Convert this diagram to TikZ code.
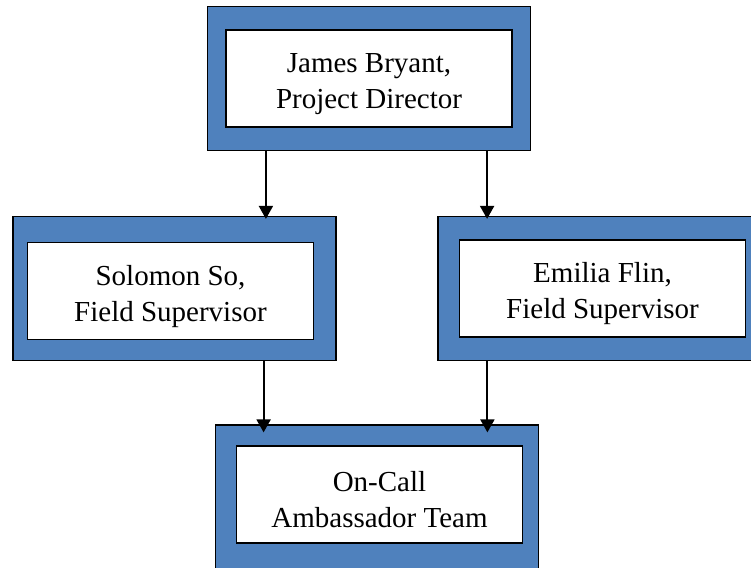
\documentclass[tikz,border=0pt]{standalone}
\usepackage{fontspec}
\setmainfont{Liberation Serif}
\usetikzlibrary{arrows.meta}
\definecolor{frameblue}{RGB}{79,129,189}
\newcommand\padtop{\rule{0pt}{31pt}}

\begin{document}
\begin{tikzpicture}[x=1pt,y=-1pt,
    frame/.style={draw=black,line width=1.2pt,fill=frameblue,
      minimum width=323pt,minimum height=144pt,inner sep=0pt},
    card/.style={draw=black,line width=1.6pt,fill=white,
      minimum width=286pt,minimum height=97pt,inner sep=0pt,
      align=center,font=\fontsize{29}{36}\selectfont},
    link/.style={line width=2pt,-{Triangle[width=14pt,length=13pt]}}]
  \useasboundingbox (0,0) rectangle (751,567);
  % frames
  \node[frame] (dirF) at (369,78.5) {};
  \node[frame] (solF) at (174.5,288.5) {};
  \node[frame,minimum width=330pt] (emiF) at (603,288.5) {};
  \node[frame] (teamF) at (377,497) {};
  % cards
  \node[card] (dir) at (dirF) {\padtop James Bryant,\\Project Director};
  \node[card] (sol) at (170.5,291) {\padtop Solomon So,\\Field Supervisor};
  \node[card] (emi) at (602.5,288.5) {\padtop Emilia Flin,\\Field Supervisor};
  \node[card] (team) at (379.5,494.5) {\padtop On-Call\\Ambassador Team};
  % arrows
  \draw[link] ([xshift=59pt]dirF.south west) -- ([xshift=59pt,yshift=-3pt]dirF.south west |- solF.north);
  \draw[link] ([xshift=-44pt]dirF.south east) -- ([xshift=-44pt,yshift=-3pt]dirF.south east |- emiF.north);
  \draw[link] ([xshift=-73pt]solF.south east) -- ([xshift=-73pt,yshift=-8pt]solF.south east |- teamF.north);
  \draw[link] ([xshift=50pt]emiF.south west) -- ([xshift=50pt,yshift=-8pt]emiF.south west |- teamF.north);
\end{tikzpicture}
\end{document}
